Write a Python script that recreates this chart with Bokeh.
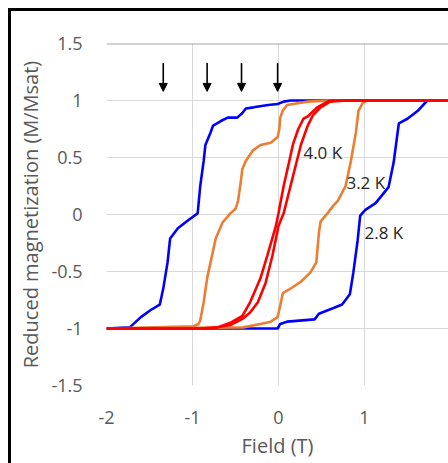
from bokeh.plotting import figure
from bokeh.models import Range1d, FixedTicker, Span, Arrow, NormalHead, ColumnDataSource, Div, Spacer, InlineStyleSheet
from bokeh.layouts import column, row
from bokeh.core.properties import value
from bokeh.embed import file_html
from bokeh.resources import INLINE

# ---- data ----
# 2.8 K (blue)
b28_down_x = [2.0, 0.14, 0.06, -0.01, -0.12, -0.29, -0.38, -0.42, -0.48, -0.59, -0.67, -0.76, -0.79,
              -0.85, -0.87, -0.91, -0.94, -1.05, -1.17, -1.26, -1.29, -1.34, -1.38, -1.49, -1.60, -1.73, -2.0]
b28_down_y = [1.0, 1.0, 0.99, 0.97, 0.96, 0.94, 0.93, 0.89, 0.85, 0.85, 0.82, 0.78, 0.72,
              0.61, 0.47, 0.25, 0.01, -0.05, -0.12, -0.21, -0.42, -0.65, -0.79, -0.84, -0.90, -0.99, -1.0]
b28_up_x = [-2.0, -0.01, 0.02, 0.10, 0.42, 0.47, 0.64, 0.74, 0.83, 0.87, 0.92, 0.95, 1.01, 1.13,
            1.28, 1.34, 1.38, 1.40, 1.50, 1.62, 1.73, 2.0]
b28_up_y = [-1.0, -1.0, -0.96, -0.94, -0.92, -0.87, -0.82, -0.79, -0.70, -0.51, -0.23, -0.01, 0.04, 0.10,
            0.24, 0.46, 0.69, 0.80, 0.84, 0.91, 1.0, 1.0]

# 3.2 K (orange)
o32_down_x = [2.0, 0.60, 0.34, 0.17, 0.10, 0.05, 0.02, 0.01, -0.01, -0.09, -0.21, -0.30, -0.38, -0.42,
              -0.44, -0.47, -0.50, -0.56, -0.65, -0.73, -0.79, -0.83, -0.87, -0.91, -0.93, -0.99, -2.0]
o32_down_y = [1.0, 1.0, 0.99, 0.97, 0.96, 0.91, 0.85, 0.75, 0.68, 0.63, 0.61, 0.56, 0.47, 0.40,
              0.28, 0.12, 0.05, 0.01, -0.07, -0.21, -0.42, -0.56, -0.77, -0.93, -0.96, -0.98, -1.0]
o32_up_x = [-2.0, -0.41, -0.21, -0.09, -0.01, 0.02, 0.05, 0.12, 0.26, 0.37, 0.44, 0.47, 0.49, 0.57,
            0.64, 0.69, 0.78, 0.84, 0.90, 0.93, 0.98, 1.03, 2.0]
o32_up_y = [-1.0, -0.99, -0.96, -0.94, -0.90, -0.80, -0.69, -0.66, -0.59, -0.51, -0.42, -0.16, -0.06, 0.01,
            0.08, 0.12, 0.25, 0.46, 0.72, 0.91, 0.98, 1.0, 1.0]

# 4.0 K (red)
r40_down_x = [2.0, 0.60, 0.45, 0.34, 0.29, 0.23, 0.17, 0.12, 0.06, 0.0, -0.03, -0.13, -0.21, -0.33,
              -0.42, -0.56, -0.71, -0.91, -2.0]
r40_down_y = [1.0, 1.0, 0.94, 0.86, 0.84, 0.75, 0.62, 0.45, 0.25, 0.01, -0.10, -0.36, -0.56, -0.77,
              -0.89, -0.95, -0.99, -1.0, -1.0]
r40_up_x = [-2.0, -0.79, -0.56, -0.41, -0.33, -0.24, -0.15, -0.07, 0.0, 0.06, 0.14, 0.20, 0.26, 0.34,
            0.40, 0.49, 0.60, 0.78, 2.0]
r40_up_y = [-1.0, -1.0, -0.97, -0.91, -0.86, -0.77, -0.60, -0.36, -0.10, 0.01, 0.25, 0.43, 0.61, 0.78,
            0.87, 0.94, 0.99, 1.0, 1.0]

label_x = [0.29, 0.79, 1.0]
label_y = [0.54, 0.28, -0.16]
label_text = ["4.0 K", "3.2 K", "2.8 K"]

arrow_x = [-1.34, -0.83, -0.43, -0.01]
arrow_top = 1.33
arrow_bottom = 1.08

x_ticks = [-2, -1, 0, 1, 2]
y_ticks = [-1.5, -1, -0.5, 0, 0.5, 1, 1.5]
y_tick_text = ["-1.5", "-1", "-0.5", "0", "0.5", "1", "1.5"]
x_tick_text = ["-2", "-1", "0", "1", "2"]

FONT = "Open Sans"
GRAY = "#595959"

p = figure(width=437, height=452, output_backend="svg", toolbar_location=None,
           x_range=Range1d(-2.0, 1.977), y_range=Range1d(-1.5, 1.5),
           min_border_left=95, min_border_right=0, min_border_top=32, min_border_bottom=78,
           margin=0)
p.outline_line_color = None
p.background_fill_color = "white"
p.border_fill_color = "white"

p.xaxis.ticker = FixedTicker(ticks=x_ticks)
p.yaxis.ticker = FixedTicker(ticks=y_ticks)
p.xaxis.major_label_overrides = {t: s for t, s in zip(x_ticks, x_tick_text)}
p.yaxis.major_label_overrides = {t: s for t, s in zip(y_ticks, y_tick_text)}
for ax in (p.xaxis, p.yaxis):
    ax.axis_line_color = None
    ax.major_tick_line_color = None
    ax.minor_tick_line_color = None
    ax.major_tick_out = 0
    ax.major_tick_in = 0
    ax.major_label_text_font = FONT
    ax.major_label_text_font_size = "18px"
    ax.major_label_text_color = GRAY
    ax.axis_label_text_font = FONT
    ax.axis_label_text_font_size = "20px"
    ax.axis_label_text_font_style = "normal"
    ax.axis_label_text_color = GRAY
p.xaxis.major_label_standoff = 25
p.yaxis.major_label_standoff = 24
p.xaxis.axis_label = "Field (T)"
p.yaxis.axis_label = "Reduced magnetization (M/Msat)"
p.xaxis.axis_label_standoff = 5
p.yaxis.axis_label_standoff = 4

p.grid.grid_line_color = "#d9d9d9"
p.grid.grid_line_width = 1
p.add_layout(Span(location=1.5, dimension="width", line_color="#a6a6a6", line_width=2))

lw = 2.6
p.line(b28_down_x, b28_down_y, line_color="#0000ff", line_width=lw)
p.line(b28_up_x, b28_up_y, line_color="#0000ff", line_width=lw)
p.line(o32_down_x, o32_down_y, line_color="#ed7d31", line_width=lw)
p.line(o32_up_x, o32_up_y, line_color="#ed7d31", line_width=lw)
p.line(r40_down_x, r40_down_y, line_color="#ff0000", line_width=lw)
p.line(r40_up_x, r40_up_y, line_color="#ff0000", line_width=lw)

src = ColumnDataSource(dict(x=label_x, y=label_y, t=label_text))
p.text(x="x", y="y", text="t", source=src, text_font=value(FONT), text_font_size="17px",
       text_color="#262626", text_align="left", text_baseline="middle")

asrc = ColumnDataSource(dict(x0=arrow_x, y0=[arrow_top] * 4, x1=arrow_x, y1=[arrow_bottom] * 4))
p.add_layout(Arrow(source=asrc, x_start="x0", y_start="y0", x_end="x1", y_end="y1",
                   line_color="black", line_width=1.6,
                   end=NormalHead(size=8, fill_color="black", line_color="black", line_width=1)))

# black frame of the original figure (top-left corner of a box)
bar_css = InlineStyleSheet(css=":host { background-color: #000; overflow: hidden; }")
top_bar = Div(text='<div style="display:block;width:440px;height:3px;background:#000;margin:0;padding:0;line-height:0;font-size:0;"></div>',
              width=440, height=3, margin=0, styles={"background-color": "#000"}, stylesheets=[bar_css])
left_bar = Div(text='<div style="width:3px;height:452px;background:#000;"></div>',
               width=3, height=452, margin=0)
inner = column(top_bar, row(left_bar, p, spacing=0, margin=0), spacing=0, margin=0)
layout = column(Spacer(height=8, width=448, margin=0),
                row(Spacer(width=8, height=455, margin=0), inner, spacing=0, margin=0),
                spacing=0, margin=0)

open("out.html", "w").write(file_html(layout, INLINE))
